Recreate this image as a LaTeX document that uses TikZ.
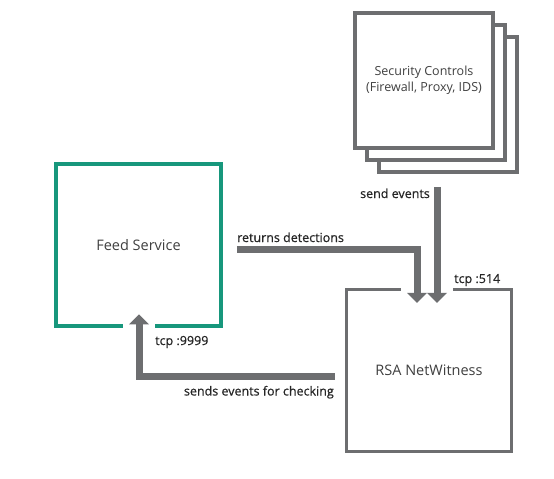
\documentclass[tikz,border=0pt]{standalone}
\usepackage{fontspec}
\setmainfont{Open Sans}
\newfontfamily\labelfont[FakeBold=0.6]{Open Sans}
\usetikzlibrary{arrows.meta,calc}

\definecolor{boxgray}{HTML}{6D6E70}
\definecolor{feedteal}{HTML}{17977C}
\definecolor{textgray}{HTML}{404040}

\begin{document}
\begin{tikzpicture}[x=1pt,y=-1pt,
  box/.style={draw=boxgray,line width=3.5pt,fill=white,inner sep=0pt,
    minimum width=138pt,minimum height=135pt,align=center,text=textgray,
    font=\fontsize{12.5}{16}\selectfont},
  bigbox/.style={box,minimum width=165pt,minimum height=162pt,
    font=\fontsize{14.5}{17}\selectfont},
  halo/.style={draw=white,line width=32pt},
  flow/.style={draw=boxgray,line width=7pt,
    -{Triangle[width=20pt,length=10pt,line width=0pt]}},
  lbl/.style={text=black!85,font=\labelfont\fontsize{12.5}{15}\selectfont,inner sep=0pt}]

\useasboundingbox (0,0) rectangle (554,479);

% The stack of security controls, back to front
\node[box] (sec3) at (448,104.5) {};
\node[box] (sec2) at (436,92.5) {};
\node[box] (sec) at (424,80.5) {Security Controls\\(Firewall, Proxy, IDS)};

% Feed service and the NetWitness box
\node[bigbox,draw=feedteal] (feed) at (138.5,245) {Feed Service};
\node[bigbox] (rsa) at (429,370.7) {RSA NetWitness};

% The flows: white gaps first so the arrows cut through the box edges
\foreach \s in {halo,flow} {
  \draw[\s] ($(sec3.south)+(-11,13)$) -- ($(rsa.north)+(8,15)$);
  \draw[\s] ($(feed.east)+(14,4)$) -| ($(rsa.north)+(-12,15)$);
  \draw[\s] ($(rsa.west)+(-10,5.3)$) -| ($(feed.south)+(0.5,-13.5)$);
}

% Labels of the flows
\node[lbl,anchor=base east] (sendlbl) at (430,198) {send events};
\node[lbl,anchor=base west] (retlbl) at (237,242) {returns detections};
\node[lbl,anchor=base west] (port514) at (454,283) {tcp :514};
\node[lbl,anchor=base west] (port9999) at (155,345) {tcp :9999};
\node[lbl,anchor=base east] (chklbl) at (334,395.5) {sends events for checking};

\end{tikzpicture}
\end{document}
